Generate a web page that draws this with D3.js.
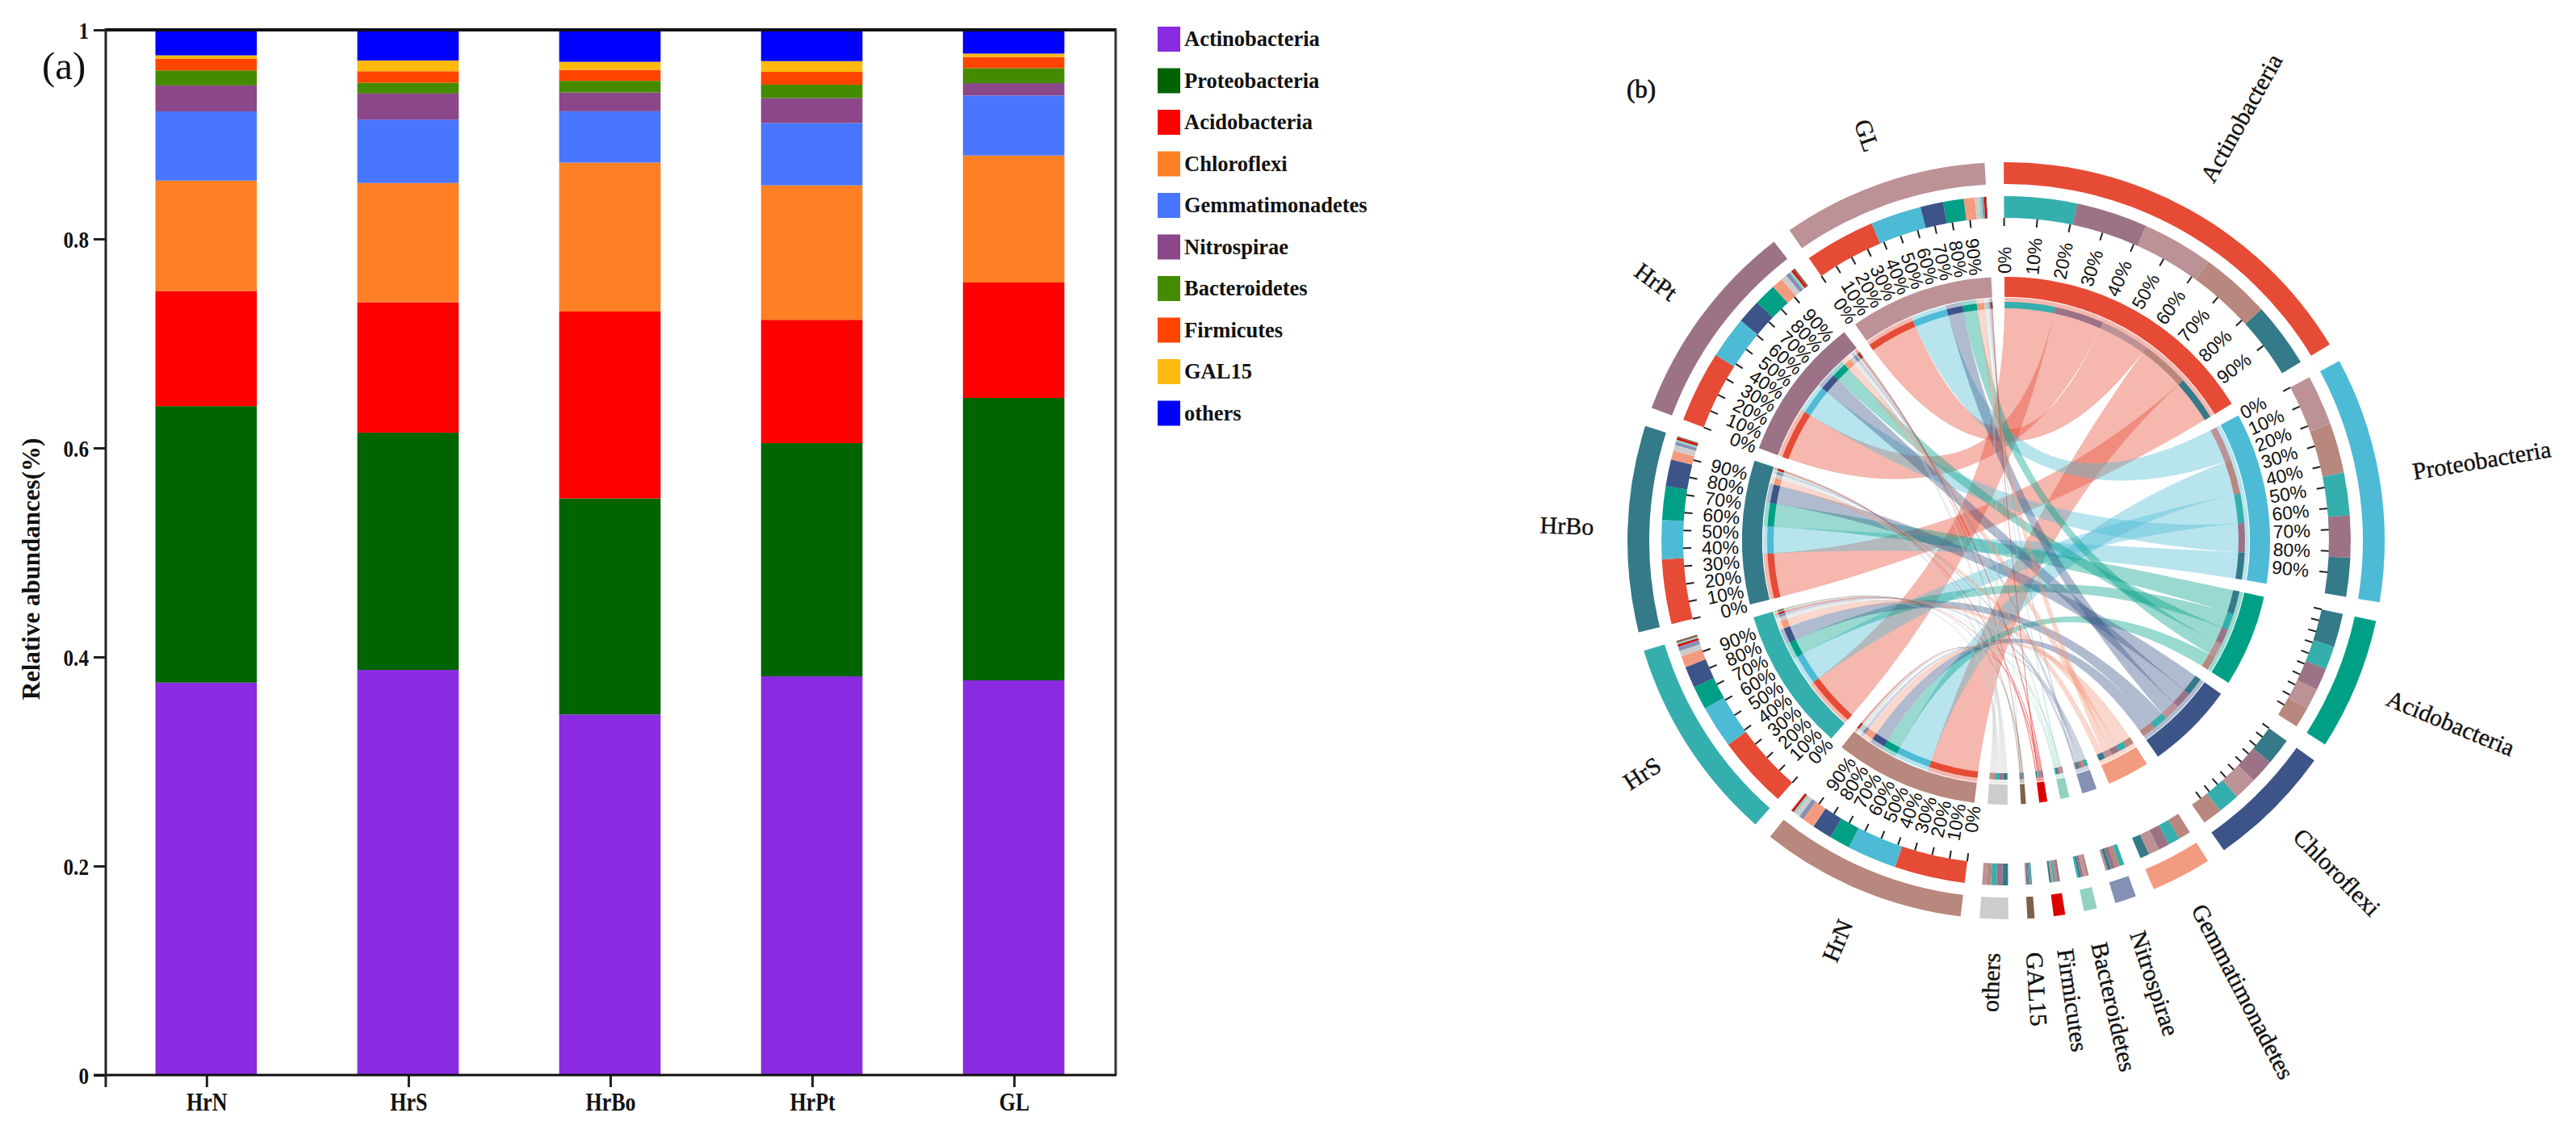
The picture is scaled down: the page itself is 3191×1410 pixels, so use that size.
<!DOCTYPE html>
<html><head><meta charset="utf-8">
<script src="https://cdn.jsdelivr.net/npm/d3@7"></script>
<style>html,body{margin:0;background:#fff}svg{display:block}text{fill:#111}</style></head>
<body><svg id="c" width="3191" height="1410"></svg>
<script>
// ---- data ----
const phyla = ["Actinobacteria","Proteobacteria","Acidobacteria","Chloroflexi","Gemmatimonadetes","Nitrospirae","Bacteroidetes","Firmicutes","GAL15","others"];
const samples = ["HrN","HrS","HrBo","HrPt","GL"];
const HrN  = [.3755,.2645,.1102,.1056,.0662,.0248,.0144,.0113,.0031,.0244];
const HrS  = [.3876,.2270,.1248,.1141,.0606,.0250,.0103,.0110,.0103,.0293];
const HrBo = [.3450,.2067,.1788,.1425,.0491,.0180,.0111,.0105,.0077,.0306];
const HrPt = [.3815,.2231,.1180,.1286,.0597,.0237,.0129,.0123,.0103,.0299];
const GL   = [.3776,.2703,.1104,.1215,.0574,.0118,.0144,.0106,.0033,.0227];
const barColors = ["#8A2BE2","#006400","#FF0000","#FF7F24","#4876FF","#8B4789","#458B00","#FF4500","#FFB90F","#0000FF"];
const phylaColors = ["#E64B35","#4DBBD5","#00A087","#3C5488","#F39B7F","#8491B4","#91D1C2","#DC0000","#7E6148","#CCCCCC"];
const sampleColors = ["#B8877D","#35AFAD","#347A89","#9B7286","#BC9297"];
const yTicks = [0,.2,.4,.6,.8,1];
const pctTicks = [0,10,20,30,40,50,60,70,80,90];
const panelA = "(a)", panelB = "(b)", yTitle = "Relative abundances(%)";

const svg = d3.select("#c");
const serif = "'Liberation Serif','Times New Roman',serif";
const sans = "'Liberation Sans',Arial,sans-serif";

// ---- panel (a): stacked bars ----
const rows = [HrN,HrS,HrBo,HrPt,GL].map((v,i)=>{const o={s:samples[i]};phyla.forEach((p,k)=>o[p]=v[k]);return o;});
const L=131,R=1382,T=37,B=1332;
const x = d3.scaleBand().domain(samples).range([L,R]).paddingInner(.4975).paddingOuter(.25);
const y = d3.scaleLinear().domain([0,1]).range([B,T]);
const a = svg.append("g");
const st = d3.stack().keys(phyla).value((d,k)=>d[k]/d3.sum(phyla,p=>d[p]))(rows);
a.selectAll("g.s").data(st).join("g").attr("fill",(d,i)=>barColors[i])
 .selectAll("rect").data(d=>d).join("rect")
 .attr("x",d=>x(d.data.s)-1).attr("width",x.bandwidth())
 .attr("y",d=>y(d[1])).attr("height",d=>y(d[0])-y(d[1]));
a.append("line").attr("x1",L).attr("x2",R+1).attr("y1",T).attr("y2",T).attr("stroke","#111").attr("stroke-width",4);
a.append("line").attr("x1",R).attr("x2",R).attr("y1",T).attr("y2",B).attr("stroke","#333").attr("stroke-width",3);
const yAxis = a.append("g").attr("transform",`translate(${L},0)`)
 .call(d3.axisLeft(y).tickValues(yTicks).tickSize(15).tickFormat(d=>String(d)));
const xAxis = a.append("g").attr("transform",`translate(0,${B})`)
 .call(d3.axisBottom(x).tickSize(15));
xAxis.select(".domain").remove();
yAxis.select(".domain").remove();
a.append("line").attr("x1",L-15).attr("x2",R+1).attr("y1",B).attr("y2",B).attr("stroke","#111").attr("stroke-width",3);
a.append("line").attr("x1",L).attr("x2",L).attr("y1",T-2).attr("y2",B+15).attr("stroke","#222").attr("stroke-width",3);
a.selectAll(".tick line").attr("stroke","#222").attr("stroke-width",3);
yAxis.selectAll(".tick text").attr("x",null).attr("dy",null)
 .attr("font-family",serif).attr("font-size",30).attr("font-weight","bold")
 .attr("text-anchor","end").attr("transform","translate(-21,10) scale(.84,1)");
xAxis.selectAll(".tick text").attr("y",null).attr("dy",null)
 .attr("font-family",serif).attr("font-size",31).attr("font-weight","bold")
 .attr("text-anchor","middle").attr("transform","translate(0,44) scale(.84,1)");
a.append("text").text(yTitle).attr("font-family",serif).attr("font-size",31).attr("font-weight","bold")
 .attr("text-anchor","middle").attr("transform","translate(49,705) rotate(-90)");
a.append("text").text(panelA).attr("font-family",serif).attr("font-size",49).attr("x",52).attr("y",98);

const leg = svg.append("g").selectAll("g").data(phyla).join("g")
 .attr("transform",(d,i)=>`translate(1434,${33+51.5*i})`);
leg.append("rect").attr("width",28).attr("height",31).attr("fill",(d,i)=>barColors[i]);
leg.append("text").text(d=>d).attr("x",33).attr("y",24).attr("font-family",serif)
 .attr("font-size",26.5).attr("font-weight","bold").attr("fill","#222");

// ---- panel (b): chord diagram ----
const cx=2485, cy=670, padDeg=2.9, turn=-.35;
const names = phyla.concat(samples), n = names.length;
const table = [HrN,HrS,HrBo,HrPt,GL];
const M = names.map((_,i)=>names.map((_,j)=>
   (i<10&&j>=10)?table[j-10][i]:(i>=10&&j<10)?table[i-10][j]:0));
const chords = d3.chord().padAngle(padDeg*Math.PI/180).sortSubgroups(d3.descending)(M);
const color = i => i<10?phylaColors[i]:sampleColors[i-10];
const b = svg.append("g").attr("transform",`translate(${cx},${cy}) rotate(${turn})`);
const arc = (r0,r1)=>d3.arc().innerRadius(r0).outerRadius(r1);
const R0=[442,469], R1=[400,427], R2=[302,327], R3=[288,296], RL=301;

const rib = d3.ribbon().radius(RL);
b.append("g").selectAll("path").data(chords).join("path")
 .attr("d",rib).attr("fill",d=>color(Math.min(d.source.index,d.target.index))).attr("fill-opacity",.4);

b.append("g").selectAll("path").data(chords.groups).join("path")
 .attr("d",arc(...R0)).attr("fill",d=>color(d.index));
b.append("g").selectAll("path").data(chords.groups).join("path")
 .attr("d",arc(...R2)).attr("fill",d=>color(d.index));

const ends = chords.flatMap(c=>[{...c.source,partner:c.target.index},{...c.target,partner:c.source.index}]);
[R1,R3].forEach(r=>{
  b.append("g").selectAll("path").data(ends).join("path")
   .attr("d",arc(...r)).attr("fill",d=>color(d.partner));
});

const tickSet = names.map((_,i)=> i<4||i>=10);
const labelSet = names.map((_,i)=> i<2||i>=10);
const P = (ang,r)=>[r*Math.sin(ang),-r*Math.cos(ang)];
const deg = r=>r*180/Math.PI;
chords.groups.forEach(g=>{
  if(!tickSet[g.index]) return;
  const sc = d3.scaleLinear().domain([0,100]).range([g.startAngle,g.endAngle]);
  pctTicks.forEach(t=>{
    const an = sc(t), [x1,y1]=P(an,400), [x2,y2]=P(an,390);
    b.append("line").attr("x1",x1).attr("y1",y1).attr("x2",x2).attr("y2",y2).attr("stroke","#222").attr("stroke-width",2);
    if(!labelSet[g.index]) return;
    const [tx,ty]=P(an,331), right = an<Math.PI;
    b.append("text").text(t+"%").attr("font-family",sans).attr("font-size",23).attr("fill","#222")
     .attr("text-anchor",right?"start":"end").attr("dy",".36em")
     .attr("transform",`translate(${tx},${ty}) rotate(${right?deg(an)-90:deg(an)-270})`);
  });
});

b.append("g").selectAll("text").data(chords.groups).join("text")
 .text(d=>names[d.index]).attr("font-family",serif).attr("font-size",30).attr("fill","#111")
 .attr("stroke","#111").attr("stroke-width",.4).attr("dy",".3em")
 .each(function(d){
   const an=(d.startAngle+d.endAngle)/2, right=an<Math.PI, [tx,ty]=P(an,511);
   d3.select(this).attr("text-anchor",right?"start":"end")
     .attr("transform",`translate(${tx},${ty}) rotate(${right?deg(an)-90:deg(an)-270})`);
 });
svg.append("text").text(panelB).attr("font-family",serif).attr("font-size",31)
 .attr("stroke","#111").attr("stroke-width",.7).attr("x",2015).attr("y",121);
</script></body></html>
